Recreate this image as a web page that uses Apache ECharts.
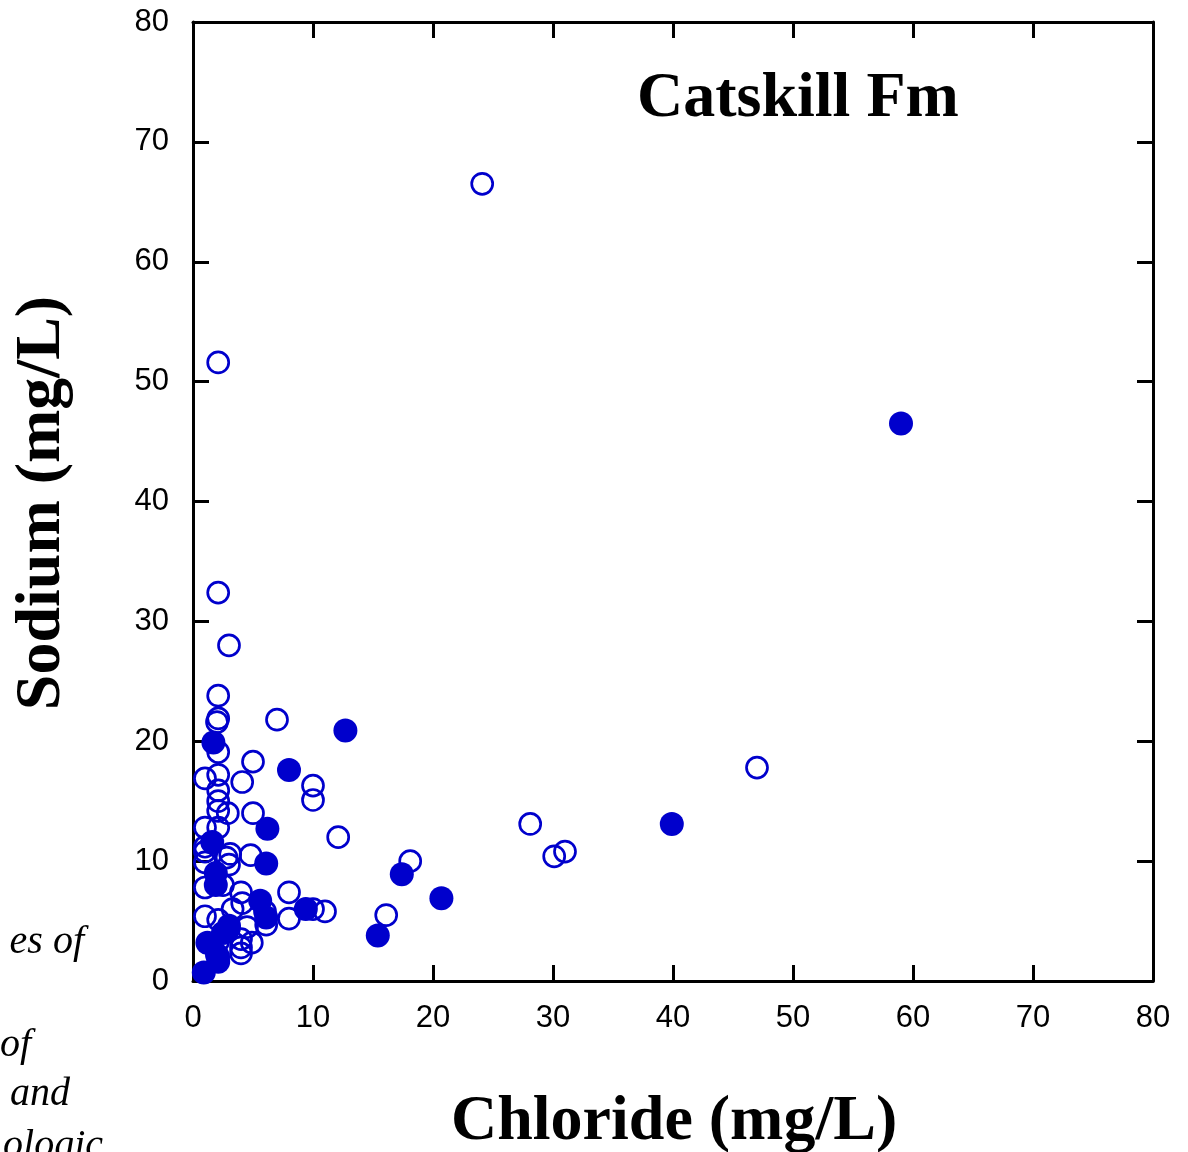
<!DOCTYPE html>
<html><head><meta charset="utf-8">
<script src="https://cdn.jsdelivr.net/npm/echarts@6/dist/echarts.min.js"></script>
<style>html,body{margin:0;padding:0;background:#fff}#c{width:1188px;height:1152px}</style>
</head><body><div id="c"></div>
<script>
const xTicks = [0,10,20,30,40,50,60,70,80];
const yTicks = [0,10,20,30,40,50,60,70,80];
const openPoints = [[24.1,66.5],[2.1,51.6],[2.1,32.4],[3.0,28.0],[2.1,23.8],[2.1,21.9],[2.0,21.6],[7.0,21.8],[2.1,19.1],[5.0,18.3],[1.0,16.9],[2.1,17.2],[4.1,16.6],[2.1,15.9],[2.1,15.0],[2.1,14.2],[2.9,14.0],[5.0,14.0],[10.0,16.3],[10.0,15.1],[12.1,12.0],[1.0,12.8],[2.1,12.8],[1.0,11.2],[2.8,10.3],[3.1,10.6],[4.8,10.5],[1.0,9.9],[3.0,9.7],[1.0,7.8],[2.5,8.0],[4.0,7.4],[8.0,7.4],[18.1,10.0],[28.1,13.1],[30.1,10.4],[31.0,10.8],[47.0,17.8],[16.1,5.5],[11.0,5.8],[10.0,6.0],[8.0,5.2],[1.0,5.4],[2.1,5.1],[3.3,6.0],[4.1,6.5],[6.1,4.7],[4.9,3.2],[4.0,2.8],[4.0,2.3],[4.0,3.5],[2.1,3.3],[3.0,4.4],[2.1,2.0],[4.5,4.5],[6.0,5.8],[1.0,10.8]];
const filledPoints = [[59.0,46.5],[12.7,20.9],[1.7,19.9],[8.0,17.6],[6.2,12.7],[1.6,11.6],[6.1,9.8],[17.4,8.9],[20.7,6.9],[39.9,13.1],[15.4,3.8],[1.9,9.0],[1.9,8.0],[5.6,6.7],[6.1,5.3],[9.4,6.0],[3.0,4.6],[1.2,3.2],[2.0,2.2],[0.9,0.7],[2.1,1.6],[2.5,4.0]];
const title = 'Catskill Fm';
const xName = 'Chloride (mg/L)';
const yName = 'Sodium (mg/L)';
const sideText = ['es of','of','and','ologic'];

const blue = '#0000cc';
const chart = echarts.init(document.getElementById('c'));
function ax(pos, showLabel, margin){
  return {
    type:'value', min:0, max:80, interval:10, position:pos,
    axisLine:{show:true,onZero:false,lineStyle:{color:'#000',width:3}},
    axisTick:{show:true,inside:true,length:16,lineStyle:{color:'#000',width:3}},
    splitLine:{show:false},
    axisLabel:{show:showLabel,fontFamily:'Liberation Sans',fontSize:31,color:'#000',margin:margin,
      formatter:v=>(xTicks.includes(v)?String(v):'')}
  };
}
chart.setOption({
  animation:false,
  grid:{left:193,right:35,top:22,bottom:171,containLabel:false},
  xAxis:[ax('bottom',true,22), ax('top',false,8)],
  yAxis:[ax('left',true,24), ax('right',false,8)],
  series:[
    {type:'scatter',xAxisIndex:0,yAxisIndex:0,data:openPoints,symbol:'circle',symbolSize:21,
      itemStyle:{color:'rgba(255,255,255,0)',borderColor:blue,borderWidth:2.7,opacity:1}},
    {type:'scatter',xAxisIndex:0,yAxisIndex:0,data:filledPoints,symbol:'circle',symbolSize:24,
      itemStyle:{color:blue,borderWidth:0,opacity:1}}
  ],
  graphic:[
    {type:'text',left:637,top:67,style:{text:title,font:'bold 64px "Liberation Serif"',fill:'#000'}},
    {type:'text',left:451,top:1090,style:{text:xName,font:'bold 64px "Liberation Serif"',fill:'#000'}},
    {type:'text',x:42,y:503,rotation:Math.PI/2,style:{text:yName,font:'bold 64px "Liberation Serif"',fill:'#000',textAlign:'center',textVerticalAlign:'middle'}},
    {type:'text',x:84,y:942,style:{text:sideText[0],font:'italic 40px "Liberation Serif"',fill:'#000',textAlign:'right',textVerticalAlign:'middle'}},
    {type:'text',x:31,y:1045,style:{text:sideText[1],font:'italic 40px "Liberation Serif"',fill:'#000',textAlign:'right',textVerticalAlign:'middle'}},
    {type:'text',x:70,y:1094,style:{text:sideText[2],font:'italic 40px "Liberation Serif"',fill:'#000',textAlign:'right',textVerticalAlign:'middle'}},
    {type:'text',x:103,y:1146,style:{text:sideText[3],font:'italic 40px "Liberation Serif"',fill:'#000',textAlign:'right',textVerticalAlign:'middle'}}
  ]
});
</script></body></html>
